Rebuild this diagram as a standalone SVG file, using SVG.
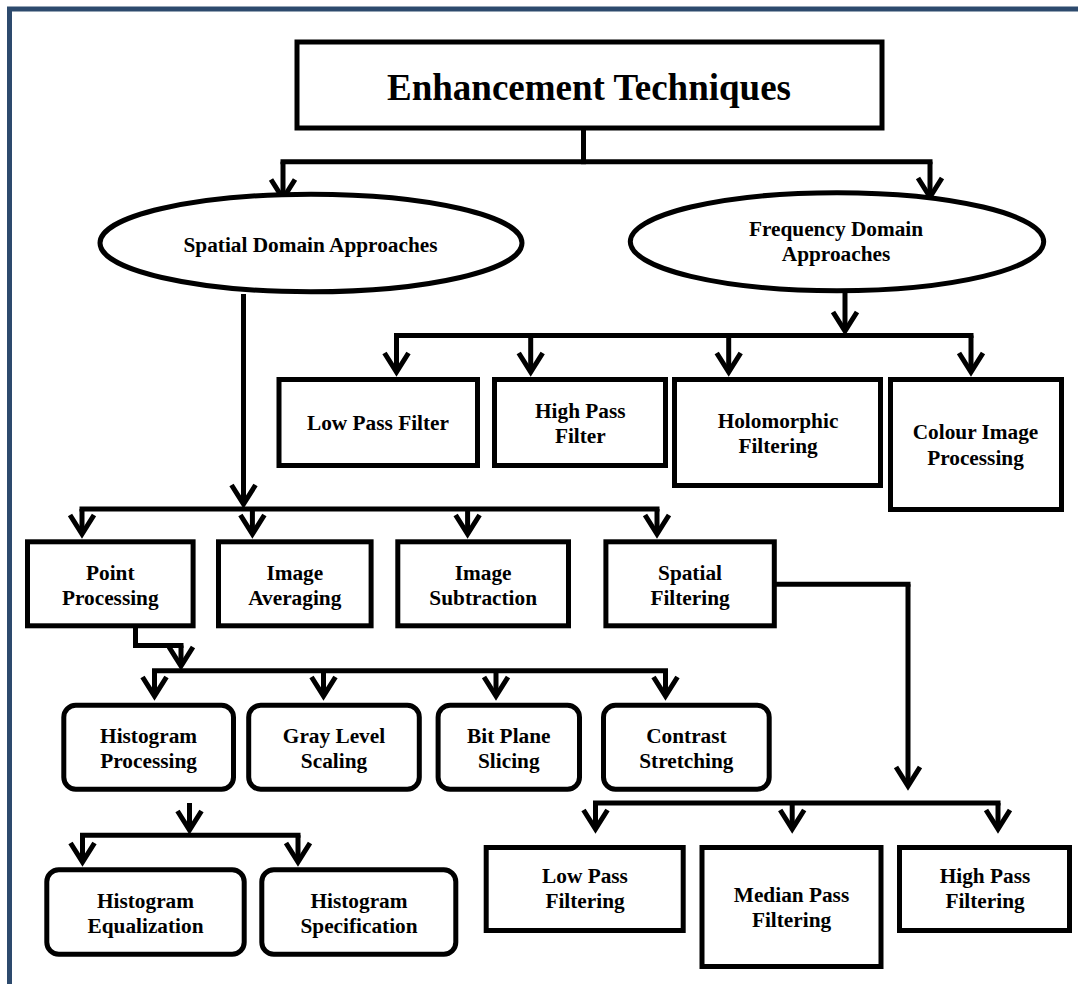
<svg xmlns="http://www.w3.org/2000/svg" width="1078" height="984" viewBox="0 0 1078 984">
  <style>
    .box { fill: #fff; stroke: #000; stroke-width: 5; }
    .ell { fill: #fff; stroke: #000; stroke-width: 5; }
    .lbl { font-family: "Liberation Serif", "Times New Roman", serif; font-weight: bold; font-size: 21.3px; fill: #000; text-anchor: middle; }
    .title { font-family: "Liberation Serif", "Times New Roman", serif; font-weight: bold; font-size: 37px; fill: #000; text-anchor: middle; }
    .bus { fill: none; stroke: #000; stroke-width: 5; stroke-linecap: square; stroke-linejoin: miter; }
    .arr { fill: none; stroke: #000; stroke-width: 5; stroke-linecap: butt; marker-end: url(#ah); }
  </style>
  <defs>
    <marker id="ah" markerUnits="userSpaceOnUse" viewBox="-26 -16 32 32" refX="0" refY="0" markerWidth="32" markerHeight="32" orient="auto" overflow="visible">
      <path d="M-19,-12 L0,0 L-19,12" fill="none" stroke="#000" stroke-width="5" stroke-linejoin="miter"/>
    </marker>
  </defs>

  <rect width="1078" height="984" fill="#fff"/>
  <!-- page frame -->
  <rect x="9.5" y="9" width="1100" height="1000" fill="none" stroke="#2d4a6d" stroke-width="5"/>

  <!-- connectors -->
  <g id="connectors">
    <!-- root to the two approaches -->
    <path class="bus" d="M583.5,130.5 V161.7"/>
    <path class="bus" d="M283,161.7 H930"/>
    <path class="arr" d="M283,161.7 V198.5"/>
    <path class="arr" d="M930,161.7 V197"/>

    <!-- frequency domain branches -->
    <path class="arr" d="M845,293 V331"/>
    <path class="bus" d="M396.5,335.5 H971"/>
    <path class="arr" d="M396.5,335.5 V372"/>
    <path class="arr" d="M530.7,335.5 V372"/>
    <path class="arr" d="M728.7,335.5 V372"/>
    <path class="arr" d="M971,335.5 V372"/>

    <!-- spatial domain branches -->
    <path class="arr" d="M243.5,294 V504"/>
    <path class="bus" d="M82,509 H657"/>
    <path class="arr" d="M82,509 V534"/>
    <path class="arr" d="M252.4,509 V534"/>
    <path class="arr" d="M467.6,509 V534"/>
    <path class="arr" d="M657,509 V534"/>

    <!-- point processing branches -->
    <path class="bus" d="M135.5,628 V645.5 H181"/>
    <path class="arr" d="M181,645.5 V666"/>
    <path class="bus" d="M154.5,670.8 H665.5"/>
    <path class="arr" d="M154.5,670.8 V696"/>
    <path class="arr" d="M323.5,670.8 V696"/>
    <path class="arr" d="M496,670.8 V696"/>
    <path class="arr" d="M665.5,670.8 V696"/>

    <!-- histogram processing branches -->
    <path class="arr" d="M189.5,803 V830"/>
    <path class="bus" d="M82.5,835.2 H298"/>
    <path class="arr" d="M82.5,835.2 V862"/>
    <path class="arr" d="M298,835.2 V862"/>

    <!-- spatial filtering branches -->
    <path class="bus" d="M776.8,584.2 H908"/>
    <path class="arr" d="M908,584.2 V786"/>
    <path class="bus" d="M595.5,803 H998"/>
    <path class="arr" d="M595.5,803 V829"/>
    <path class="arr" d="M792.2,803 V829"/>
    <path class="arr" d="M998,803 V829"/>
  </g>

  <!-- root -->
  <g id="enhancement-techniques">
    <rect class="box" x="297" y="42" width="585" height="86"/>
    <text class="title" x="589" y="100">Enhancement Techniques</text>
  </g>

  <!-- approaches -->
  <g id="spatial-domain">
    <ellipse class="ell" cx="311" cy="243" rx="211" ry="48.8"/>
    <text class="lbl" x="310.5" y="252">Spatial Domain Approaches</text>
  </g>
  <g id="frequency-domain">
    <ellipse class="ell" cx="837" cy="241.7" rx="206.7" ry="49"/>
    <text class="lbl" x="836" y="236">Frequency Domain</text>
    <text class="lbl" x="836" y="261">Approaches</text>
  </g>

  <!-- frequency domain methods -->
  <g id="low-pass-filter">
    <rect class="box" x="279" y="379.5" width="198.5" height="86"/>
    <text class="lbl" x="378" y="430">Low Pass Filter</text>
  </g>
  <g id="high-pass-filter">
    <rect class="box" x="494.5" y="379.5" width="171" height="86"/>
    <text class="lbl" x="580.3" y="418">High Pass</text>
    <text class="lbl" x="580.3" y="443">Filter</text>
  </g>
  <g id="holomorphic-filtering">
    <rect class="box" x="674.5" y="379.5" width="206" height="106"/>
    <text class="lbl" x="778" y="427.5">Holomorphic</text>
    <text class="lbl" x="778" y="452.5">Filtering</text>
  </g>
  <g id="colour-image-processing">
    <rect class="box" x="890.5" y="379.5" width="171" height="130"/>
    <text class="lbl" x="975.5" y="439">Colour Image</text>
    <text class="lbl" x="975.5" y="465">Processing</text>
  </g>

  <!-- spatial domain methods -->
  <g id="point-processing">
    <rect class="box" x="27.5" y="541.8" width="165.6" height="84"/>
    <text class="lbl" x="110.3" y="579.5">Point</text>
    <text class="lbl" x="110.3" y="604.5">Processing</text>
  </g>
  <g id="image-averaging">
    <rect class="box" x="218.5" y="541.8" width="152.6" height="84"/>
    <text class="lbl" x="294.8" y="579.5">Image</text>
    <text class="lbl" x="294.8" y="604.5">Averaging</text>
  </g>
  <g id="image-subtraction">
    <rect class="box" x="397.8" y="541.8" width="170.7" height="84"/>
    <text class="lbl" x="483.2" y="579.5">Image</text>
    <text class="lbl" x="483.2" y="604.5">Subtraction</text>
  </g>
  <g id="spatial-filtering">
    <rect class="box" x="605.9" y="541.8" width="168.4" height="84"/>
    <text class="lbl" x="690" y="579.5">Spatial</text>
    <text class="lbl" x="690" y="604.5">Filtering</text>
  </g>

  <!-- point processing methods -->
  <g id="histogram-processing">
    <rect class="box" x="63.8" y="705.2" width="169.7" height="84" rx="12"/>
    <text class="lbl" x="148.6" y="742.5">Histogram</text>
    <text class="lbl" x="148.6" y="767.5">Processing</text>
  </g>
  <g id="gray-level-scaling">
    <rect class="box" x="248.7" y="705.2" width="170.6" height="84" rx="12"/>
    <text class="lbl" x="334" y="742.5">Gray Level</text>
    <text class="lbl" x="334" y="767.5">Scaling</text>
  </g>
  <g id="bit-plane-slicing">
    <rect class="box" x="438.1" y="705.2" width="141.4" height="84" rx="12"/>
    <text class="lbl" x="508.8" y="742.5">Bit Plane</text>
    <text class="lbl" x="508.8" y="767.5">Slicing</text>
  </g>
  <g id="contrast-stretching">
    <rect class="box" x="603.5" y="705.2" width="165.7" height="84" rx="12"/>
    <text class="lbl" x="686.4" y="742.5">Contrast</text>
    <text class="lbl" x="686.4" y="767.5">Stretching</text>
  </g>

  <!-- histogram methods -->
  <g id="histogram-equalization">
    <rect class="box" x="46.8" y="869.8" width="197.4" height="84.4" rx="12"/>
    <text class="lbl" x="145.5" y="907.7">Histogram</text>
    <text class="lbl" x="145.5" y="932.7">Equalization</text>
  </g>
  <g id="histogram-specification">
    <rect class="box" x="261.8" y="869.8" width="194" height="84.4" rx="12"/>
    <text class="lbl" x="359" y="907.7">Histogram</text>
    <text class="lbl" x="359" y="932.7">Specification</text>
  </g>

  <!-- spatial filtering methods -->
  <g id="low-pass-filtering">
    <rect class="box" x="486.2" y="847.5" width="197" height="83"/>
    <text class="lbl" x="585" y="883.3">Low Pass</text>
    <text class="lbl" x="585" y="908.3">Filtering</text>
  </g>
  <g id="median-pass-filtering">
    <rect class="box" x="702" y="847.5" width="179" height="119"/>
    <text class="lbl" x="791.5" y="901.7">Median Pass</text>
    <text class="lbl" x="791.5" y="926.7">Filtering</text>
  </g>
  <g id="high-pass-filtering">
    <rect class="box" x="899.5" y="847.5" width="170" height="83"/>
    <text class="lbl" x="985" y="883.3">High Pass</text>
    <text class="lbl" x="985" y="908.3">Filtering</text>
  </g>
</svg>
